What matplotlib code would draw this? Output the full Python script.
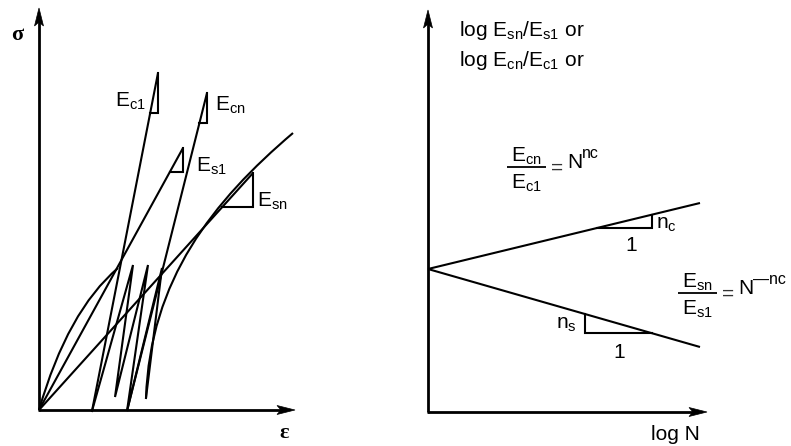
import numpy as np
import matplotlib
matplotlib.use("Agg")
import matplotlib.pyplot as plt
from matplotlib.path import Path
from matplotlib.patches import PathPatch, Polygon

plt.rcParams['font.family'] = ['Liberation Sans', 'DejaVu Sans']
plt.rcParams['mathtext.fontset'] = 'custom'
plt.rcParams['mathtext.rm'] = 'Liberation Sans'
plt.rcParams['mathtext.it'] = 'Liberation Sans:italic'
plt.rcParams['mathtext.bf'] = 'Liberation Sans:bold'

# ---------------- geometry of the sketch (canvas units, y downward) ----------
# left panel: stress-strain under cyclic load
left_origin = (39, 410)
left_axis_ends = (295, 8)            # strain axis tip x, stress axis tip y

first_loading = [(39, 410), (67.5, 311), (118, 268)]          # quadratic curve
cyclic_envelope = [(146, 398), (150, 280), (213, 201), (293, 133)]  # cubic curve

E_c1_line = [(92, 411), (158, 73)]
E_cn_line = [(127, 411), (207, 93)]
E_s1_line = [(39, 410), (183, 148)]
E_sn_line = [(39, 410), (253, 173)]

loop_x = [92, 133, 115, 148, 127, 162, 146]
loop_y = [411, 265, 397, 265, 411, 268, 398]

# depth (y of the horizontal leg) of each slope triangle
slope_tri_y = {'c1': 113, 'cn': 123, 's1': 172, 'sn': 207}

# right panel: log modulus ratio vs log N
right_origin = (428, 412)
right_axis_ends = (707, 10)
fan_start = (428, 269)
upper_end = (700, 203)
lower_end = (700, 347)
upper_tri_x = (597, 652)
lower_tri_x = (585, 652)

LW = 1.5
AXLW = 2.0
FS = 15

W, H = 791, 446
fig = plt.figure(figsize=(W / 100, H / 100), dpi=100)
ax = fig.add_axes([0, 0, 1, 1])
ax.set_xlim(0, W)
ax.set_ylim(H, 0)
ax.axis('off')


def seg(p, q, lw=LW):
    ax.plot([p[0], q[0]], [p[1], q[1]], color='black', lw=lw,
            solid_capstyle='butt', solid_joinstyle='miter')


def arrow_head(tip, direction, length=18, half=4.5, notch=4):
    d = np.array(direction, float)
    d /= np.hypot(*d)
    n = np.array([-d[1], d[0]])
    t = np.array(tip, float)
    back = t - d * length
    pts = [t, back + n * half, t - d * (length - notch), back - n * half]
    ax.add_patch(Polygon(pts, closed=True, facecolor='black',
                         edgecolor='black', lw=0.5))


def axes_pair(origin, ends):
    ox, oy = origin
    xt, yt = ends
    seg((ox, oy), (xt - 10, oy), AXLW)
    seg((ox, oy), (ox, yt + 10), AXLW)
    seg((ox - 1, oy), (ox + 1, oy), AXLW)
    arrow_head((xt, oy), (1, 0))
    arrow_head((ox, yt), (0, -1))


def bezier(points):
    codes = [Path.MOVETO] + ([Path.CURVE3] * 2 if len(points) == 3
                             else [Path.CURVE4] * 3)
    ax.add_patch(PathPatch(Path(points, codes), facecolor='none',
                           edgecolor='black', lw=LW))


def slope_triangle(line, y_base):
    (x0, y0), (x1, y1) = line
    xb = x0 + (y_base - y0) * (x1 - x0) / (y1 - y0)
    ax.plot([xb, x1, x1], [y_base, y_base, y1], color='black', lw=LW,
            solid_joinstyle='miter')


# ---------------- left panel ----------------
axes_pair(left_origin, left_axis_ends)
bezier(first_loading)
bezier(cyclic_envelope)
for line in (E_c1_line, E_cn_line, E_s1_line, E_sn_line):
    seg(*line)
ax.plot(loop_x, loop_y, color='black', lw=LW, solid_joinstyle='miter')
slope_triangle(E_c1_line, slope_tri_y['c1'])
slope_triangle(E_cn_line, slope_tri_y['cn'])
slope_triangle(E_s1_line, slope_tri_y['s1'])
slope_triangle(E_sn_line, slope_tri_y['sn'])

ax.text(115, 107, r'$\mathrm{E_{c1}}$', fontsize=FS, va='baseline')
ax.text(215, 111, r'$\mathrm{E_{cn}}$', fontsize=FS, va='baseline')
ax.text(196, 172, r'$\mathrm{E_{s1}}$', fontsize=FS, va='baseline')
ax.text(257, 207, r'$\mathrm{E_{sn}}$', fontsize=FS, va='baseline')

ax.text(11, 40, 'σ', family='Liberation Serif', fontweight='bold',
        fontsize=16, va='baseline')
ax.text(279, 438, 'ε', family='Liberation Serif', fontweight='bold',
        fontsize=16, va='baseline')

# ---------------- right panel ----------------
axes_pair(right_origin, right_axis_ends)
seg(fan_start, upper_end)
seg(fan_start, lower_end)


def y_on(p, q, x):
    return p[1] + (x - p[0]) * (q[1] - p[1]) / (q[0] - p[0])


ua, ub = upper_tri_x
yu = y_on(fan_start, upper_end, ua)
ax.plot([ua, ub, ub], [yu, yu, y_on(fan_start, upper_end, ub)],
        color='black', lw=LW, solid_joinstyle='miter')
la, lb = lower_tri_x
yl = y_on(fan_start, lower_end, lb)
ax.plot([la, la, lb], [y_on(fan_start, lower_end, la), yl, yl],
        color='black', lw=LW, solid_joinstyle='miter')

ax.text(656, 229, r'$\mathrm{n_c}$', fontsize=FS, va='baseline')
ax.text(631, 251, '1', fontsize=FS, va='baseline', ha='center')
ax.text(556, 329, r'$\mathrm{n_s}$', fontsize=FS, va='baseline')
ax.text(619, 358, '1', fontsize=FS, va='baseline', ha='center')

ax.text(459, 36, r'log $\mathrm{E_{sn}/E_{s1}}$ or', fontsize=FS,
        va='baseline')
ax.text(459, 66, r'log $\mathrm{E_{cn}/E_{c1}}$ or', fontsize=FS,
        va='baseline')
ax.text(651, 440, 'log N', fontsize=FS, va='baseline')


def ratio(x_bar, y_bar, num, den, power):
    seg((x_bar, y_bar), (x_bar + 39, y_bar), 1.3)
    ax.text(x_bar + 4, y_bar - 5, num, fontsize=FS, va='baseline')
    ax.text(x_bar + 4, y_bar + 22, den, fontsize=FS, va='baseline')
    ax.text(x_bar + 44, y_bar + 7, '=', fontsize=FS, va='baseline',
            color='#333333')
    ax.text(x_bar + 60, y_bar + 1, 'N', fontsize=FS, va='baseline')
    ax.text(x_bar + 75, y_bar - 9, power, fontsize=11.5, va='baseline')


ratio(507, 167, r'$\mathrm{E_{cn}}$', r'$\mathrm{E_{c1}}$', 'nc')
ratio(678, 293, r'$\mathrm{E_{sn}}$', r'$\mathrm{E_{s1}}$', '\u2014nc')

fig.savefig('out.png', dpi=100, facecolor='white')
